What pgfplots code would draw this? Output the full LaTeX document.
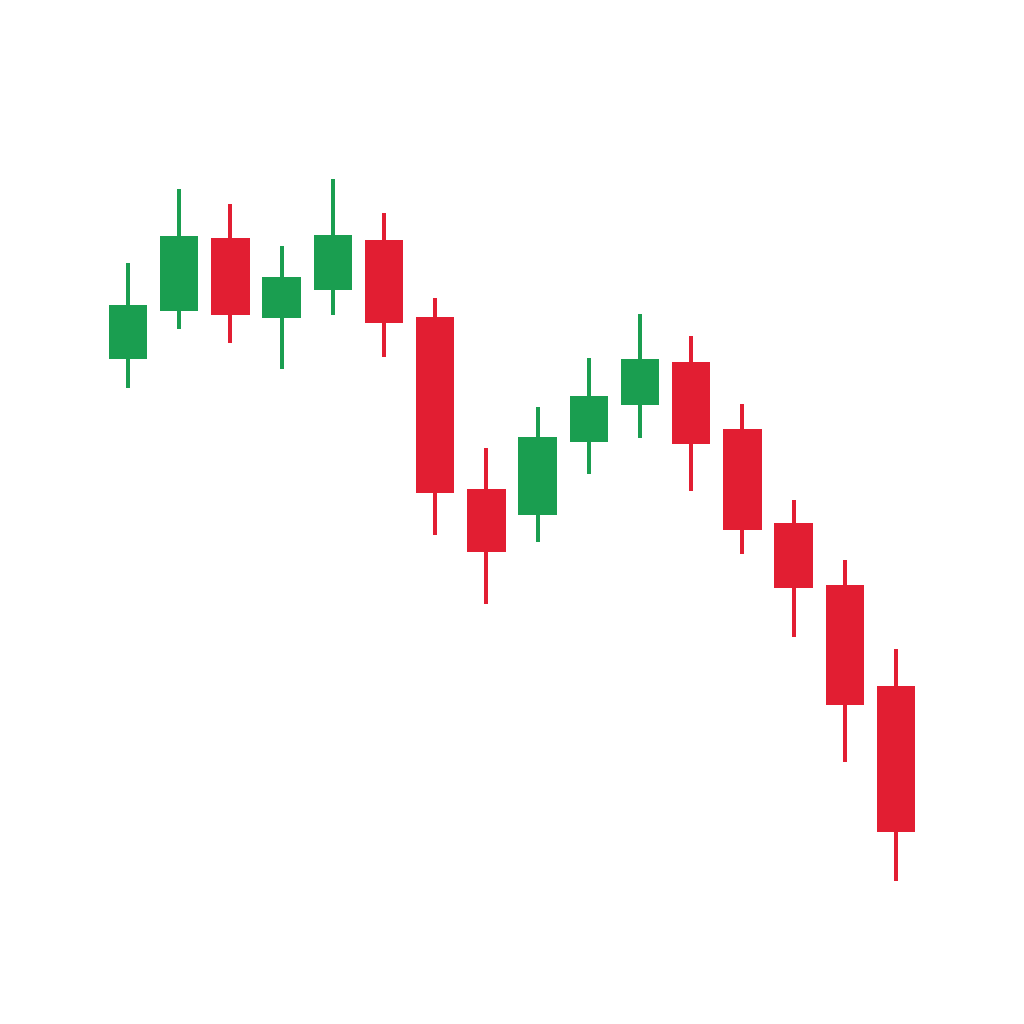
\documentclass[border=0pt]{standalone}
\usepackage{pgfplots}
\pgfplotsset{compat=1.18}
\usepackage{pgfplotstable}
\definecolor{cgreen}{RGB}{26,158,80}
\definecolor{cred}{RGB}{226,30,50}
\pgfplotstableread{
x open high low close
1 665 761 636 719
2 713 835 695 788
4 706 778 655 747
5 734 845 709 789
9 509 617 482 587
10 582 666 550 628
11 619 710 586 665
}\greendata
\pgfplotstableread{
x open high low close
3 786 820 681 709
6 784 811 667 701
7 707 726 489 531
8 535 576 420 472
12 662 688 533 580
13 595 620 470 494
14 501 524 387 436
15 439 464 262 319
16 338 375 143 192
}\reddata
\begin{document}
\begin{tikzpicture}
\begin{axis}[width=10cm,height=10cm,scale only axis,
  xmin=-1.5,xmax=18.5,ymin=0,ymax=1024,hide axis,clip=false]
\fill[white] (rel axis cs:0,0) rectangle (rel axis cs:1,1);
% wicks
\addplot[draw=none,mark=none,forget plot,
  error bars/.cd,y dir=both,y explicit,error mark=none,
  error bar style={draw=cgreen,line width=1.1pt,solid}]
  table[x=x,y expr={(\thisrow{high}+\thisrow{low})/2},
        y error expr={(\thisrow{high}-\thisrow{low})/2}] {\greendata};
\addplot[draw=none,mark=none,forget plot,
  error bars/.cd,y dir=both,y explicit,error mark=none,
  error bar style={draw=cred,line width=1.1pt,solid}]
  table[x=x,y expr={(\thisrow{high}+\thisrow{low})/2},
        y error expr={(\thisrow{high}-\thisrow{low})/2}] {\reddata};
% bodies
\addplot[draw=none,mark=none,forget plot,
  error bars/.cd,y dir=both,y explicit,error mark=none,
  error bar style={draw=cgreen,line width=10.7pt,solid}]
  table[x=x,y expr={(\thisrow{open}+\thisrow{close})/2},
        y error expr={abs(\thisrow{close}-\thisrow{open})/2}] {\greendata};
\addplot[draw=none,mark=none,forget plot,
  error bars/.cd,y dir=both,y explicit,error mark=none,
  error bar style={draw=cred,line width=10.7pt,solid}]
  table[x=x,y expr={(\thisrow{open}+\thisrow{close})/2},
        y error expr={abs(\thisrow{close}-\thisrow{open})/2}] {\reddata};
\end{axis}
\end{tikzpicture}
\end{document}
